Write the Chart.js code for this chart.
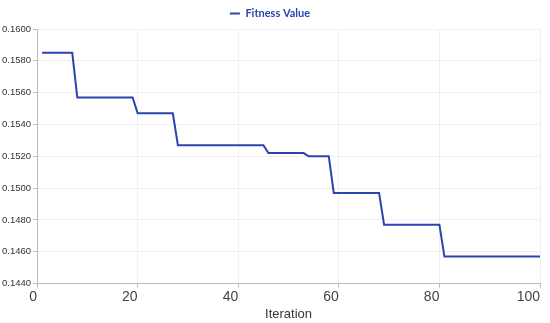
<!DOCTYPE html>
<html>
<head>
<meta charset="utf-8">
<script src="https://cdn.jsdelivr.net/npm/chart.js@4"></script>
<style>
html,body{margin:0;padding:0;background:#fff;}
#wrap{width:550px;height:323px;position:relative;}
</style>
</head>
<body>
<div id="wrap"><canvas id="c"></canvas></div>
<script>
const seriesLabel = "Fitness Value";
const xTitle = "Iteration";
// iteration index -> fitness (step levels)
const iterations = [];
for (let i = 1; i <= 100; i++) iterations.push(i);
const stepStarts = [1, 8, 20, 28, 46, 54, 59, 69, 81];
const stepValues = [0.1585, 0.1557, 0.1547, 0.1527, 0.1522, 0.1520, 0.1497, 0.1477, 0.1457];
const fitness = iterations.map(it => {
  let v = stepValues[0];
  for (let k = 0; k < stepStarts.length; k++) if (it >= stepStarts[k]) v = stepValues[k];
  return v;
});
const points = iterations.map((x, i) => ({x: x, y: fitness[i]}));
const lineColor = "#2b44b0";

new Chart(document.getElementById('c'), {
  type: 'line',
  data: {
    datasets: [{
      label: seriesLabel,
      data: points,
      borderColor: lineColor,
      backgroundColor: lineColor,
      borderWidth: 2,
      pointRadius: 0,
      tension: 0,
      fill: false
    }]
  },
  options: {
    responsive: true,
    maintainAspectRatio: false,
    animation: false,
    layout: {padding: {left: 0, right: 10, top: 0, bottom: 1}},
    plugins: {
      legend: {
        display: true,
        labels: {
          usePointStyle: true,
          pointStyle: 'line',
          pointStyleWidth: 10,
          boxWidth: 10,
          color: lineColor,
          font: {family: 'Lato', size: 11, weight: 'bold'},
          padding: 8
        }
      },
      tooltip: {enabled: false}
    },
    scales: {
      x: {
        type: 'linear',
        min: 0, max: 100,
        ticks: {stepSize: 20, align: 'end', color: '#444', font: {family: 'Liberation Sans', size: 14}, padding: 1, maxRotation: 0},
        grid: {color: '#f0f0f0', tickLength: 4, tickColor: '#bbb'},
        border: {color: '#bbb'},
        title: {display: true, text: xTitle, color: '#333', font: {family: 'Liberation Sans', size: 13}, padding: {top: 0, bottom: 0}}
      },
      y: {
        min: 0.144, max: 0.16,
        ticks: {stepSize: 0.002, color: '#333', font: {family: 'Liberation Sans', size: 9.5}, padding: 2,
          callback: v => Number(v).toFixed(4)},
        grid: {color: '#f0f0f0', tickLength: 4, tickColor: '#bbb'},
        border: {color: '#bbb'}
      }
    }
  }
});
</script>
</body>
</html>
